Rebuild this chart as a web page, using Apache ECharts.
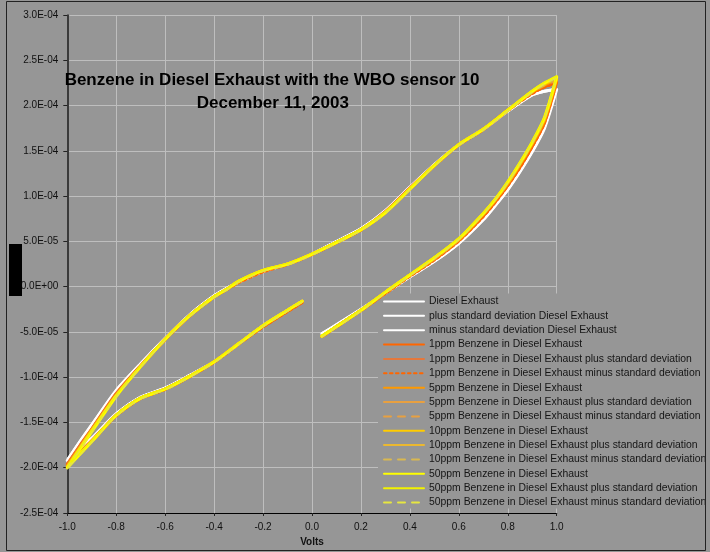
<!DOCTYPE html>
<html><head><meta charset="utf-8">
<script src="https://cdn.jsdelivr.net/npm/echarts@6/dist/echarts.min.js"></script>
<style>html,body{margin:0;padding:0;background:#969696}#c{width:710px;height:552px}</style>
</head><body><div id="c"></div>
<script>
// Voltage sweep (x values); null = gap in the recorded data
const volts = [-1.0,-0.95,-0.9,-0.8,-0.7,-0.6,-0.5,-0.4,-0.35,-0.3,-0.2,-0.1,0.0,0.1,0.2,0.3,0.4,0.5,0.6,0.7,0.8,0.9,0.95,1.0,
 0.95,0.9,0.85,0.8,0.75,0.7,0.6,0.5,0.4,0.3,0.2,0.1,0.04,null,
 -0.04,-0.1,-0.2,-0.3,-0.4,-0.5,-0.6,-0.7,-0.8,-0.9,-1.0];

const diesel = [-1.92e-4,-1.72e-4,-1.53e-4,-1.15e-4,-8.5e-5,-5.7e-5,-3.1e-5,-1.0e-5,-2e-6,5e-6,1.7e-5,2.5e-5,3.6e-5,5.0e-5,6.4e-5,8.4e-5,1.10e-4,1.35e-4,1.57e-4,1.74e-4,1.94e-4,2.12e-4,2.16e-4,2.18e-4,
 1.75e-4,1.49e-4,1.27e-4,1.07e-4,9.0e-5,7.4e-5,4.8e-5,2.8e-5,1.1e-5,-7e-6,-2.5e-5,-4.2e-5,-5.2e-5,null,
 -1.6e-5,-2.6e-5,-4.3e-5,-6.3e-5,-8.3e-5,-9.8e-5,-1.12e-4,-1.22e-4,-1.41e-4,-1.68e-4,-1.92e-4];
const dieselPlus = [-1.90e-4,-1.70e-4,-1.51e-4,-1.13e-4,-8.4e-5,-5.6e-5,-3.0e-5,-9e-6,-1e-6,6e-6,1.8e-5,2.6e-5,3.7e-5,5.1e-5,6.5e-5,8.5e-5,1.11e-4,1.36e-4,1.58e-4,1.75e-4,1.95e-4,2.13e-4,2.17e-4,2.19e-4,
 1.76e-4,1.50e-4,1.28e-4,1.08e-4,9.1e-5,7.5e-5,4.9e-5,2.9e-5,1.2e-5,-6e-6,-2.4e-5,-4.1e-5,-5.1e-5,null,
 -1.5e-5,-2.5e-5,-4.2e-5,-6.2e-5,-8.2e-5,-9.7e-5,-1.11e-4,-1.21e-4,-1.39e-4,-1.66e-4,-1.90e-4];
const dieselMinus = [-1.94e-4,-1.74e-4,-1.55e-4,-1.17e-4,-8.6e-5,-5.8e-5,-3.2e-5,-1.1e-5,-3e-6,4e-6,1.6e-5,2.4e-5,3.5e-5,4.9e-5,6.3e-5,8.3e-5,1.09e-4,1.34e-4,1.56e-4,1.73e-4,1.93e-4,2.11e-4,2.15e-4,2.17e-4,
 1.74e-4,1.48e-4,1.26e-4,1.06e-4,8.9e-5,7.3e-5,4.7e-5,2.7e-5,1.0e-5,-8e-6,-2.6e-5,-4.3e-5,-5.3e-5,null,
 -1.7e-5,-2.7e-5,-4.4e-5,-6.4e-5,-8.4e-5,-9.9e-5,-1.13e-4,-1.23e-4,-1.43e-4,-1.70e-4,-1.94e-4];

const ppm1 = [-1.96e-4,-1.76e-4,-1.57e-4,-1.18e-4,-8.7e-5,-5.8e-5,-3.2e-5,-1.1e-5,-3e-6,5e-6,1.7e-5,2.5e-5,3.6e-5,4.9e-5,6.3e-5,8.3e-5,1.09e-4,1.34e-4,1.57e-4,1.74e-4,1.95e-4,2.14e-4,2.21e-4,2.26e-4,
 1.81e-4,1.55e-4,1.32e-4,1.12e-4,9.4e-5,7.8e-5,5.1e-5,3.0e-5,1.2e-5,-7e-6,-2.6e-5,-4.4e-5,-5.5e-5,null,
 -1.7e-5,-2.7e-5,-4.4e-5,-6.3e-5,-8.3e-5,-9.9e-5,-1.13e-4,-1.23e-4,-1.42e-4,-1.70e-4,-1.96e-4];
const ppm1Plus = [-1.95e-4,-1.75e-4,-1.56e-4,-1.17e-4,-8.6e-5,-5.7e-5,-3.1e-5,-1.0e-5,-2e-6,6e-6,1.8e-5,2.6e-5,3.7e-5,5.0e-5,6.4e-5,8.4e-5,1.10e-4,1.35e-4,1.58e-4,1.75e-4,1.96e-4,2.15e-4,2.22e-4,2.27e-4,
 1.82e-4,1.56e-4,1.33e-4,1.13e-4,9.5e-5,7.9e-5,5.2e-5,3.1e-5,1.3e-5,-6e-6,-2.5e-5,-4.3e-5,-5.4e-5,null,
 -1.6e-5,-2.6e-5,-4.3e-5,-6.2e-5,-8.2e-5,-9.8e-5,-1.12e-4,-1.22e-4,-1.41e-4,-1.69e-4,-1.95e-4];
const ppm1Minus = [-1.97e-4,-1.77e-4,-1.58e-4,-1.19e-4,-8.8e-5,-5.9e-5,-3.3e-5,-1.2e-5,-4e-6,4e-6,1.6e-5,2.4e-5,3.5e-5,4.8e-5,6.2e-5,8.2e-5,1.08e-4,1.33e-4,1.56e-4,1.73e-4,1.94e-4,2.13e-4,2.20e-4,2.25e-4,
 1.80e-4,1.54e-4,1.31e-4,1.11e-4,9.3e-5,7.7e-5,5.0e-5,2.9e-5,1.1e-5,-8e-6,-2.7e-5,-4.5e-5,-5.6e-5,null,
 -1.8e-5,-2.8e-5,-4.5e-5,-6.4e-5,-8.4e-5,-1.00e-4,-1.14e-4,-1.24e-4,-1.43e-4,-1.71e-4,-1.97e-4];

const ppm5 = [-1.98e-4,-1.78e-4,-1.58e-4,-1.20e-4,-8.8e-5,-5.8e-5,-3.2e-5,-1.1e-5,-3e-6,6e-6,1.8e-5,2.5e-5,3.6e-5,4.9e-5,6.3e-5,8.2e-5,1.08e-4,1.34e-4,1.57e-4,1.74e-4,1.95e-4,2.15e-4,2.23e-4,2.29e-4,
 1.84e-4,1.58e-4,1.35e-4,1.14e-4,9.6e-5,8.0e-5,5.2e-5,3.1e-5,1.3e-5,-6e-6,-2.6e-5,-4.4e-5,-5.5e-5,null,
 -1.6e-5,-2.6e-5,-4.3e-5,-6.3e-5,-8.3e-5,-9.9e-5,-1.13e-4,-1.23e-4,-1.42e-4,-1.71e-4,-1.98e-4];
const ppm5Plus = [-1.97e-4,-1.77e-4,-1.57e-4,-1.19e-4,-8.7e-5,-5.7e-5,-3.1e-5,-1.0e-5,-2e-6,7e-6,1.9e-5,2.6e-5,3.7e-5,5.0e-5,6.4e-5,8.3e-5,1.09e-4,1.35e-4,1.58e-4,1.75e-4,1.96e-4,2.16e-4,2.24e-4,2.30e-4,
 1.85e-4,1.59e-4,1.36e-4,1.15e-4,9.7e-5,8.1e-5,5.3e-5,3.2e-5,1.4e-5,-5e-6,-2.5e-5,-4.3e-5,-5.4e-5,null,
 -1.5e-5,-2.5e-5,-4.2e-5,-6.2e-5,-8.2e-5,-9.8e-5,-1.12e-4,-1.22e-4,-1.41e-4,-1.70e-4,-1.97e-4];
const ppm5Minus = [-1.99e-4,-1.79e-4,-1.59e-4,-1.21e-4,-8.9e-5,-5.9e-5,-3.3e-5,-1.2e-5,-4e-6,5e-6,1.7e-5,2.4e-5,3.5e-5,4.8e-5,6.2e-5,8.1e-5,1.07e-4,1.33e-4,1.56e-4,1.73e-4,1.94e-4,2.14e-4,2.22e-4,2.28e-4,
 1.83e-4,1.57e-4,1.34e-4,1.13e-4,9.5e-5,7.9e-5,5.1e-5,3.0e-5,1.2e-5,-7e-6,-2.7e-5,-4.5e-5,-5.6e-5,null,
 -1.7e-5,-2.7e-5,-4.4e-5,-6.4e-5,-8.4e-5,-1.00e-4,-1.14e-4,-1.24e-4,-1.43e-4,-1.72e-4,-1.99e-4];

const ppm10 = [-1.99e-4,-1.79e-4,-1.59e-4,-1.20e-4,-8.8e-5,-5.8e-5,-3.2e-5,-1.1e-5,-3e-6,6e-6,1.8e-5,2.5e-5,3.6e-5,4.9e-5,6.3e-5,8.2e-5,1.08e-4,1.34e-4,1.57e-4,1.74e-4,1.95e-4,2.16e-4,2.24e-4,2.31e-4,
 1.86e-4,1.59e-4,1.36e-4,1.15e-4,9.7e-5,8.1e-5,5.3e-5,3.2e-5,1.3e-5,-6e-6,-2.6e-5,-4.4e-5,-5.5e-5,null,
 -1.6e-5,-2.6e-5,-4.3e-5,-6.3e-5,-8.3e-5,-9.9e-5,-1.13e-4,-1.23e-4,-1.42e-4,-1.71e-4,-1.99e-4];
const ppm10Plus = [-1.98e-4,-1.78e-4,-1.58e-4,-1.19e-4,-8.7e-5,-5.7e-5,-3.1e-5,-1.0e-5,-2e-6,7e-6,1.9e-5,2.6e-5,3.7e-5,5.0e-5,6.4e-5,8.3e-5,1.09e-4,1.35e-4,1.58e-4,1.75e-4,1.96e-4,2.17e-4,2.25e-4,2.32e-4,
 1.87e-4,1.60e-4,1.37e-4,1.16e-4,9.8e-5,8.2e-5,5.4e-5,3.3e-5,1.4e-5,-5e-6,-2.5e-5,-4.3e-5,-5.4e-5,null,
 -1.5e-5,-2.5e-5,-4.2e-5,-6.2e-5,-8.2e-5,-9.8e-5,-1.12e-4,-1.22e-4,-1.41e-4,-1.70e-4,-1.98e-4];
const ppm10Minus = [-2.00e-4,-1.80e-4,-1.60e-4,-1.21e-4,-8.9e-5,-5.9e-5,-3.3e-5,-1.2e-5,-4e-6,5e-6,1.7e-5,2.4e-5,3.5e-5,4.8e-5,6.2e-5,8.1e-5,1.07e-4,1.33e-4,1.56e-4,1.73e-4,1.94e-4,2.15e-4,2.23e-4,2.30e-4,
 1.85e-4,1.58e-4,1.35e-4,1.14e-4,9.6e-5,8.0e-5,5.2e-5,3.1e-5,1.2e-5,-7e-6,-2.7e-5,-4.5e-5,-5.6e-5,null,
 -1.7e-5,-2.7e-5,-4.4e-5,-6.4e-5,-8.4e-5,-1.00e-4,-1.14e-4,-1.24e-4,-1.43e-4,-1.72e-4,-2.00e-4];

const ppm50 = [-2.00e-4,-1.80e-4,-1.60e-4,-1.21e-4,-8.8e-5,-5.8e-5,-3.2e-5,-1.1e-5,-3e-6,6e-6,1.8e-5,2.5e-5,3.6e-5,4.9e-5,6.3e-5,8.2e-5,1.08e-4,1.34e-4,1.57e-4,1.74e-4,1.95e-4,2.16e-4,2.25e-4,2.32e-4,
 1.87e-4,1.60e-4,1.37e-4,1.16e-4,9.7e-5,8.1e-5,5.3e-5,3.2e-5,1.3e-5,-6e-6,-2.6e-5,-4.4e-5,-5.45e-5,null,
 -1.6e-5,-2.6e-5,-4.3e-5,-6.3e-5,-8.3e-5,-9.9e-5,-1.13e-4,-1.23e-4,-1.42e-4,-1.71e-4,-2.00e-4];
const ppm50Plus = [-1.99e-4,-1.79e-4,-1.59e-4,-1.20e-4,-8.7e-5,-5.7e-5,-3.1e-5,-1.0e-5,-2e-6,7e-6,1.9e-5,2.6e-5,3.7e-5,5.0e-5,6.4e-5,8.3e-5,1.09e-4,1.35e-4,1.58e-4,1.75e-4,1.96e-4,2.17e-4,2.26e-4,2.33e-4,
 1.88e-4,1.61e-4,1.38e-4,1.17e-4,9.8e-5,8.2e-5,5.4e-5,3.3e-5,1.4e-5,-5e-6,-2.5e-5,-4.3e-5,-5.35e-5,null,
 -1.5e-5,-2.5e-5,-4.2e-5,-6.2e-5,-8.2e-5,-9.8e-5,-1.12e-4,-1.22e-4,-1.41e-4,-1.70e-4,-1.99e-4];
const ppm50Minus = [-2.01e-4,-1.81e-4,-1.61e-4,-1.22e-4,-8.9e-5,-5.9e-5,-3.3e-5,-1.2e-5,-4e-6,5e-6,1.7e-5,2.4e-5,3.5e-5,4.8e-5,6.2e-5,8.1e-5,1.07e-4,1.33e-4,1.56e-4,1.73e-4,1.94e-4,2.15e-4,2.24e-4,2.31e-4,
 1.86e-4,1.59e-4,1.36e-4,1.15e-4,9.6e-5,8.0e-5,5.2e-5,3.1e-5,1.2e-5,-7e-6,-2.7e-5,-4.5e-5,-5.55e-5,null,
 -1.7e-5,-2.7e-5,-4.4e-5,-6.4e-5,-8.4e-5,-1.00e-4,-1.14e-4,-1.24e-4,-1.43e-4,-1.72e-4,-2.01e-4];

const seriesNames = [
 'Diesel Exhaust','plus standard deviation Diesel Exhaust','minus standard deviation Diesel Exhaust',
 '1ppm Benzene in Diesel Exhaust','1ppm Benzene in Diesel Exhaust plus standard deviation','1ppm Benzene in Diesel Exhaust minus standard deviation',
 '5ppm Benzene in Diesel Exhaust','5ppm Benzene in Diesel Exhaust plus standard deviation','5ppm Benzene in Diesel Exhaust minus standard deviation',
 '10ppm Benzene in Diesel Exhaust','10ppm Benzene in Diesel Exhaust plus standard deviation','10ppm Benzene in Diesel Exhaust minus standard deviation',
 '50ppm Benzene in Diesel Exhaust','50ppm Benzene in Diesel Exhaust plus standard deviation','50ppm Benzene in Diesel Exhaust minus standard deviation'];
const seriesValues = [diesel,dieselPlus,dieselMinus,ppm1,ppm1Plus,ppm1Minus,ppm5,ppm5Plus,ppm5Minus,ppm10,ppm10Plus,ppm10Minus,ppm50,ppm50Plus,ppm50Minus];

const titleLines = ['Benzene in Diesel Exhaust with the WBO sensor 10','December 11, 2003'];
const xTitle = 'Volts';

const styles = [
 {c:'#FFFFFF',w:3,t:'solid'},{c:'#FFFFFF',w:1.3,t:'solid'},{c:'#FFFFFF',w:1.3,t:'solid'},
 {c:'#FF6600',w:3,t:'solid'},{c:'#E5783C',w:1.3,t:'solid'},{c:'#FF6600',w:2.2,t:[2.5,3.5]},
 {c:'#FF9900',w:3,t:'solid'},{c:'#E8A040',w:1.3,t:'solid'},{c:'#E8A040',w:1.5,t:[7,7]},
 {c:'#FFCC00',w:3,t:'solid'},{c:'#EBB830',w:1.3,t:'solid'},{c:'#D9B850',w:1.5,t:[7,7]},
 {c:'#FFFF00',w:3,t:'solid'},{c:'#F2F200',w:1.3,t:'solid'},{c:'#E6E640',w:1.5,t:[7,7]}
];

function sci(v){
  if (Math.abs(v) < 1e-12) return '0.0E+00';
  let e = Math.floor(Math.log10(Math.abs(v)) + 1e-9);
  let m = v / Math.pow(10, e);
  if (Math.abs(m) >= 9.95) { m /= 10; e += 1; }
  return m.toFixed(1) + 'E' + (e < 0 ? '-' : '+') + String(Math.abs(e)).padStart(2, '0');
}

const FONT = '"Liberation Sans", Arial, sans-serif';
const chart = echarts.init(document.getElementById('c'), null, {renderer:'canvas'});
const series = seriesNames.map((name, k) => ({
  name, type:'line', symbol:'none', smooth:0.25, connectNulls:false, animation:false, z:5,
  lineStyle:{color:styles[k].c, width:styles[k].w, type:styles[k].t, cap:'round', join:'round'},
  itemStyle:{color:styles[k].c},
  data: volts.map((v,i) => (v === null || seriesValues[k][i] === null) ? [null,null] : [v, seriesValues[k][i]])
}));

chart.setOption({
  backgroundColor:'#969696',
  animation:false,
  grid:{left:67.3, right:710-556.7, top:15.2, bottom:552-513.5, containLabel:false},
  xAxis:{type:'value', min:-1, max:1, interval:0.2,
    name:xTitle, nameLocation:'middle', nameGap:24,
    nameTextStyle:{fontFamily:FONT, fontSize:10, fontWeight:'bold', color:'#111'},
    axisLine:{onZero:false, lineStyle:{color:'#000', width:1.2}},
    axisTick:{show:true, length:3, lineStyle:{color:'#222'}},
    axisLabel:{fontFamily:FONT, fontSize:10, color:'#111', margin:9, formatter:v=>v.toFixed(1)},
    splitLine:{show:true, lineStyle:{color:'#BEBEBE', width:1}}
  },
  yAxis:{type:'value', min:-2.5e-4, max:3.0e-4, interval:5e-5,
    axisLine:{show:true, onZero:false, lineStyle:{color:'#3a3a3a', width:2}},
    axisTick:{show:true, length:4, lineStyle:{color:'#222'}},
    axisLabel:{fontFamily:FONT, fontSize:10, color:'#111', margin:9, formatter:sci},
    splitLine:{show:true, lineStyle:{color:'#BEBEBE', width:1}}
  },
  legend:{orient:'vertical', left:378, top:293.5, padding:[3,5,1,5],
    backgroundColor:'#969696', itemWidth:40, itemHeight:10, itemGap:4.36,
    itemStyle:{opacity:0, borderWidth:0},
    textStyle:{fontFamily:FONT, fontSize:10.4, color:'#151515'},
    data:seriesNames
  },
  graphic:[
    {type:'rect', silent:true, shape:{x:6.5,y:1.5,width:699,height:549}, style:{fill:null, stroke:'#222', lineWidth:1}, z:100},
    {type:'rect', silent:true, shape:{x:9,y:244,width:13,height:52}, style:{fill:'#000'}, z:100},
    {type:'text', x:272, y:80.7, z:100, style:{text:titleLines[0], font:'bold 17px '+FONT, fill:'#000', textAlign:'center', textVerticalAlign:'middle'}},
    {type:'text', x:272.8, y:103.3, z:100, style:{text:titleLines[1], font:'bold 17px '+FONT, fill:'#000', textAlign:'center', textVerticalAlign:'middle'}}
  ],
  series
});
</script></body></html>
